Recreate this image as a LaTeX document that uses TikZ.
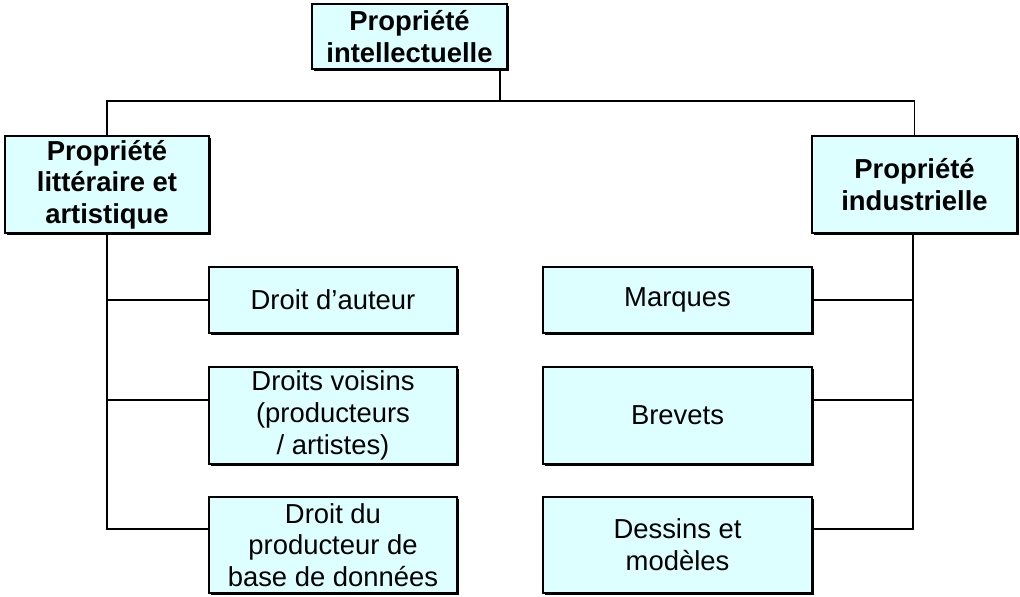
\documentclass[tikz,border=0pt]{standalone}
\usepackage{fontspec}
\setmainfont{Liberation Sans}
\usetikzlibrary{shadows}
\definecolor{boxfill}{HTML}{DDFFFF}
\begin{document}
\begin{tikzpicture}[x=0.025cm,y=-0.025cm]
\tikzset{
  box/.style={draw, line width=1pt, fill=boxfill, align=center, inner sep=0pt,
    drop shadow={shadow xshift=1.2pt, shadow yshift=-1.2pt, opacity=1, fill=black},
    font=\fontsize{19.5}{22.5}\selectfont},
  head/.style={box, font=\fontsize{19.5}{22.5}\selectfont\bfseries},
  link/.style={draw, line width=1pt}
}
\useasboundingbox (0,0) rectangle (1020,597);
% main boxes
\node[head, minimum width=195*0.025cm, minimum height=65*0.025cm] (pi) at (409.5,36.5) {Propriété\\intellectuelle};
\node[head, minimum width=204*0.025cm, minimum height=97*0.025cm] (pla) at (107,184.5) {Propriété\\littéraire et\\artistique};
\node[head, minimum width=205*0.025cm, minimum height=97*0.025cm] (pind) at (914.5,184.5) {Propriété\\industrielle};
% left column
\node[box, minimum width=248*0.025cm, minimum height=66*0.025cm] (da) at (333,300) {Droit d’auteur};
\node[box, minimum width=248*0.025cm, minimum height=97*0.025cm] (dv) at (333,415.5) {Droits voisins\\(producteurs\\/ artistes)};
\node[box, minimum width=248*0.025cm, minimum height=96*0.025cm] (dp) at (333,545) {Droit du\\producteur de\\base de données};
% right column
\node[box, minimum width=269*0.025cm, minimum height=66*0.025cm] (ma) at (677.5,300) {Marques};
\node[box, minimum width=269*0.025cm, minimum height=97*0.025cm] (br) at (677.5,415.5) {Brevets};
\node[box, minimum width=269*0.025cm, minimum height=96*0.025cm] (dm) at (677.5,545) {Dessins et\\modèles};
% connectors
\coordinate (top) at (500,101);
\draw[link] (pi.south -| top) -- (top);
\draw[link] (pla.north) |- (top) -| (pind.north);
\coordinate (lb) at (107,529);
\coordinate (rb) at (913,529);
\draw[link] (pla.south) -- (lb) -- (lb -| dp.west);
\draw[link] (pla.south |- da.west) -- (da.west);
\draw[link] (pla.south |- 0,400) -- (dv.west |- 0,400);
\draw[link] (pind.south -| rb) -- (rb) -- (rb -| dm.east);
\draw[link] (rb |- ma.east) -- (ma.east);
\draw[link] (rb |- 0,400) -- (br.east |- 0,400);
\end{tikzpicture}
\end{document}
